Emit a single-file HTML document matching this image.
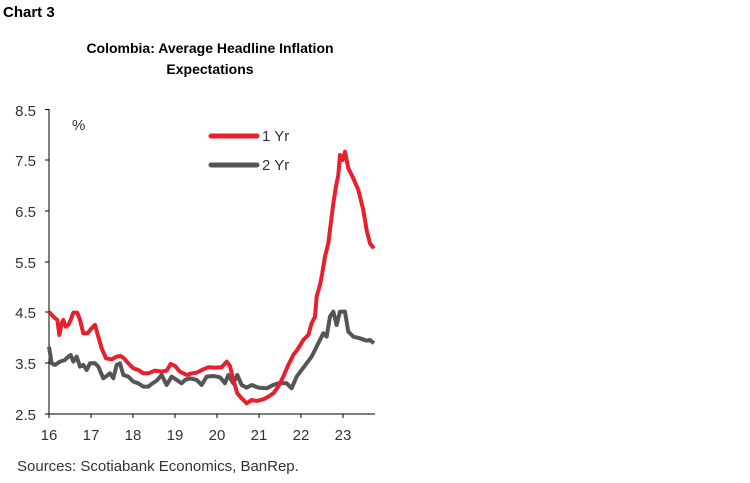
<!DOCTYPE html>
<html><head><style>
body{margin:0;background:#fff;width:750px;height:483px;overflow:hidden;position:relative;font-family:"Liberation Sans",sans-serif}
.t{position:absolute;font-weight:bold;color:#000}
</style></head><body>
<div class="t" style="left:3px;top:4px;font-size:15px">Chart 3</div>
<div class="t" style="left:40px;top:38px;width:340px;text-align:center;font-size:14px;line-height:21px">Colombia: Average Headline Inflation<br>Expectations</div>
<svg width="750" height="483" style="position:absolute;left:0;top:0" font-family="Liberation Sans, sans-serif" font-size="15" fill="#333">
<g text-anchor="end">
<text x="36" y="116">8.5</text><text x="36" y="166">7.5</text><text x="36" y="217">6.5</text><text x="36" y="268">5.5</text><text x="36" y="318">4.5</text><text x="36" y="369">3.5</text><text x="36" y="420">2.5</text>
</g>
<g text-anchor="middle">
<text x="49" y="440">16</text><text x="91" y="440">17</text><text x="133" y="440">18</text><text x="175" y="440">19</text><text x="217" y="440">20</text><text x="259" y="440">21</text><text x="301" y="440">22</text><text x="343" y="440">23</text>
</g>
<text x="72" y="130">%</text>
<text x="262" y="141">1 Yr</text>
<text x="262" y="170">2 Yr</text>
<line x1="211" y1="136" x2="257" y2="136" stroke="#e8202e" stroke-width="5" stroke-linecap="round"/>
<line x1="211" y1="165" x2="257" y2="165" stroke="#555" stroke-width="5" stroke-linecap="round"/>
<g stroke="#000" stroke-width="1">
<line x1="49" y1="109" x2="49" y2="414"/>
<line x1="49" y1="414" x2="375" y2="414"/>
<line x1="45" y1="109.5" x2="49" y2="109.5"/><line x1="45" y1="160" x2="49" y2="160"/><line x1="45" y1="211" x2="49" y2="211"/><line x1="45" y1="262" x2="49" y2="262"/><line x1="45" y1="312" x2="49" y2="312"/><line x1="45" y1="363" x2="49" y2="363"/><line x1="45" y1="414" x2="49" y2="414"/>
<line x1="49" y1="414" x2="49" y2="418"/><line x1="91" y1="414" x2="91" y2="418"/><line x1="133" y1="414" x2="133" y2="418"/><line x1="175" y1="414" x2="175" y2="418"/><line x1="217" y1="414" x2="217" y2="418"/><line x1="259" y1="414" x2="259" y2="418"/><line x1="301" y1="414" x2="301" y2="418"/><line x1="343" y1="414" x2="343" y2="418"/>
</g>
<g transform="translate(0,90) scale(0.3333)" fill="none" stroke-width="12" stroke-linejoin="round">
<polyline stroke="#555" points="147,770 155,820 165,825 180,815 195,810 205,800 212,795 220,815 230,800 240,830 250,825 260,840 270,820 285,820 295,830 310,865 320,858 330,850 340,865 350,825 360,820 370,855 385,860 400,875 415,880 430,890 445,890 455,882 470,872 485,855 500,885 515,860 530,870 545,880 555,870 570,865 590,870 605,885 620,860 640,858 660,862 675,880 685,855 700,880 712,855 725,885 740,893 755,885 775,893 800,895 820,885 835,880 860,880 875,895 890,860 905,840 920,820 935,800 950,770 970,730 980,740 990,680 1000,665 1010,705 1020,665 1035,665 1045,725 1060,740 1080,745 1100,752 1110,750 1122,760"/>
<polyline stroke="#e8202e" points="147,665 160,680 172,690 178,735 185,700 190,690 197,710 205,705 212,690 220,668 232,668 240,690 250,730 262,730 275,715 285,705 295,740 305,775 318,805 335,808 350,800 362,798 372,805 385,820 400,835 415,840 430,850 445,850 465,842 485,845 500,842 512,822 525,828 540,845 560,855 575,850 590,848 610,838 625,832 645,833 665,832 680,815 690,828 700,870 712,910 725,925 740,940 755,930 770,933 790,928 805,920 820,910 835,890 850,860 865,825 880,795 895,775 910,750 925,735 935,700 945,680 950,620 960,585 965,560 975,500 985,460 990,420 1000,340 1008,290 1015,255 1020,195 1028,210 1035,185 1045,235 1060,265 1075,300 1090,360 1100,420 1110,460 1122,475"/>
</g>
<text x="17" y="471" fill="#333">Sources: Scotiabank Economics, BanRep.</text>
</svg>
</body></html>
